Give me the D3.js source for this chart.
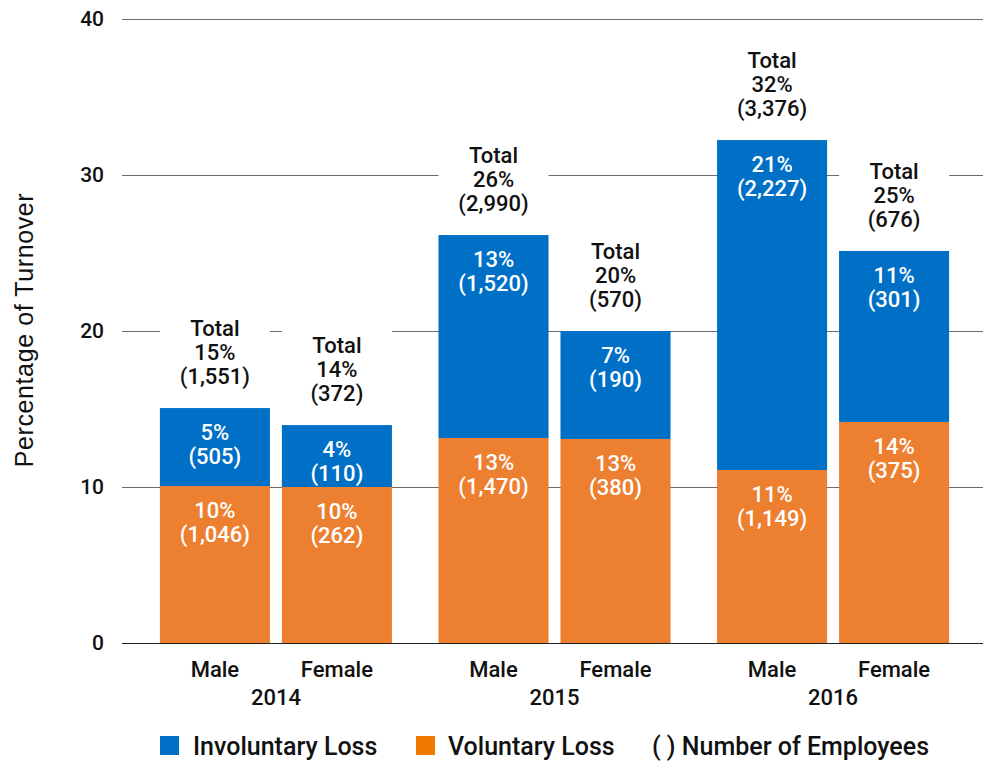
<!DOCTYPE html>
<html>
<head>
<meta charset="utf-8">
<script src="https://cdn.jsdelivr.net/npm/d3@7"></script>
<style>
  body { margin: 0; background: #fff; }
  text { font-family: Roboto, "Liberation Sans", sans-serif; font-weight: 500; }
</style>
</head>
<body>
<svg width="986" height="761"></svg>
<script>
// chart values
var years = ["2014", "2015", "2016"];
var sexes = ["Male", "Female"];
var voluntary   = [10.06, 10.0, 13.14, 13.08, 11.09, 14.17];
var involuntary = [5.0, 3.97, 13.01, 6.92, 21.15, 10.96];
var volPct   = ["10%", "10%", "13%", "13%", "11%", "14%"];
var volCount = ["1,046", "262", "1,470", "380", "1,149", "375"];
var invPct   = ["5%", "4%", "13%", "7%", "21%", "11%"];
var invCount = ["505", "110", "1,520", "190", "2,227", "301"];
var totPct   = ["15%", "14%", "26%", "20%", "32%", "25%"];
var totCount = ["1,551", "372", "2,990", "570", "3,376", "676"];
var yTicks = [0, 10, 20, 30, 40];

var blue = "#0070C6", orange = "#ED7F31";

var svg = d3.select("svg");

var rows = [];
years.forEach(function(y, i) {
  sexes.forEach(function(s, j) {
    var k = i * 2 + j;
    rows.push({year: y, sex: s, vol: voluntary[k], inv: involuntary[k],
      volPct: volPct[k], volCount: volCount[k], invPct: invPct[k], invCount: invCount[k],
      totPct: totPct[k], totCount: totCount[k]});
  });
});

var x0 = d3.scaleBand().domain(years).range([122, 987]).paddingInner(0.167).paddingOuter(0.136);
var x1 = d3.scaleBand().domain(sexes).range([0, x0.bandwidth()]).paddingInner(0.098).paddingOuter(0);
var y = d3.scaleLinear().domain([0, 40]).range([643, 19]);

function bx(d) { return x0(d.year) + x1(d.sex); }
var bw = x1.bandwidth();

// gridlines
svg.append("g").selectAll("line").data(yTicks).join("line")
  .attr("x1", 122).attr("x2", 983)
  .attr("y1", function(d) { return y(d) + 0.5; }).attr("y2", function(d) { return y(d) + 0.5; })
  .attr("stroke", function(d) { return d === 0 ? "#222" : "#6b6b6b"; })
  .attr("stroke-width", 1.2);

// y tick labels
svg.append("g").selectAll("text").data(yTicks).join("text")
  .attr("x", 104).attr("y", function(d) { return y(d) + 7; })
  .attr("text-anchor", "end").attr("font-size", 21).attr("fill", "#111")
  .text(function(d) { return d; });

// axis title
svg.append("text")
  .attr("transform", "translate(33,330) rotate(-90)")
  .attr("text-anchor", "middle").attr("font-size", 25).attr("fill", "#111")
  .attr("letter-spacing", 0.6)
  .style("font-family", "'Liberation Sans', Arial, sans-serif").style("font-weight", 400)
  .text("Percentage of Turnover");

var bars = svg.append("g").selectAll("g").data(rows).join("g");

// voluntary segment
bars.append("rect")
  .attr("x", bx).attr("width", bw)
  .attr("y", function(d) { return y(d.vol); })
  .attr("height", function(d) { return y(0) - y(d.vol); })
  .attr("fill", orange);

// involuntary segment
bars.append("rect")
  .attr("x", bx).attr("width", bw)
  .attr("y", function(d) { return y(d.vol + d.inv); })
  .attr("height", function(d) { return y(d.vol) - y(d.vol + d.inv); })
  .attr("fill", blue);

// white box behind totals
bars.append("rect")
  .attr("x", bx).attr("width", bw)
  .attr("y", function(d) { return y(d.vol + d.inv) - 96; })
  .attr("height", 94)
  .attr("fill", "#fff");

function lines(sel, arr, topFn, color) {
  arr.forEach(function(a) {
    sel.append("text")
      .attr("x", function(d) { return bx(d) + bw / 2; })
      .attr("y", function(d) { return topFn(d) + a.dy; })
      .attr("text-anchor", "middle").attr("font-size", 22).attr("fill", color)
      .text(a.f);
  });
}

lines(bars, [
  {dy: 32, f: function(d) { return d.volPct; }},
  {dy: 56, f: function(d) { return "(" + d.volCount + ")"; }}
], function(d) { return y(d.vol); }, "#fff");

lines(bars, [
  {dy: 32, f: function(d) { return d.invPct; }},
  {dy: 56, f: function(d) { return "(" + d.invCount + ")"; }}
], function(d) { return y(d.vol + d.inv); }, "#fff");

lines(bars, [
  {dy: -72, f: function(d) { return "Total"; }},
  {dy: -48, f: function(d) { return d.totPct; }},
  {dy: -24, f: function(d) { return "(" + d.totCount + ")"; }}
], function(d) { return y(d.vol + d.inv); }, "#111");

// category labels
svg.append("g").selectAll("text").data(rows).join("text")
  .attr("x", function(d) { return bx(d) + bw / 2; }).attr("y", 677)
  .attr("text-anchor", "middle").attr("font-size", 22).attr("fill", "#111")
  .text(function(d) { return d.sex; });

svg.append("g").selectAll("text").data(years).join("text")
  .attr("x", function(d) { return x0(d) + x0.bandwidth() / 2; }).attr("y", 705)
  .attr("text-anchor", "middle").attr("font-size", 22).attr("fill", "#111")
  .text(function(d) { return d; });

// legend
var legend = svg.append("g");
legend.append("rect").attr("x", 160).attr("y", 736).attr("width", 19).attr("height", 19).attr("fill", blue);
legend.append("text").attr("x", 193).attr("y", 755).attr("font-size", 25).attr("fill", "#111").text("Involuntary Loss");
legend.append("rect").attr("x", 416).attr("y", 736).attr("width", 19).attr("height", 19).attr("fill", "#F07800");
legend.append("text").attr("x", 448).attr("y", 755).attr("font-size", 25).attr("fill", "#111").text("Voluntary Loss");
legend.append("text").attr("x", 652).attr("y", 755).attr("font-size", 25).attr("fill", "#111").text("( ) Number of Employees");
</script>
</body>
</html>
